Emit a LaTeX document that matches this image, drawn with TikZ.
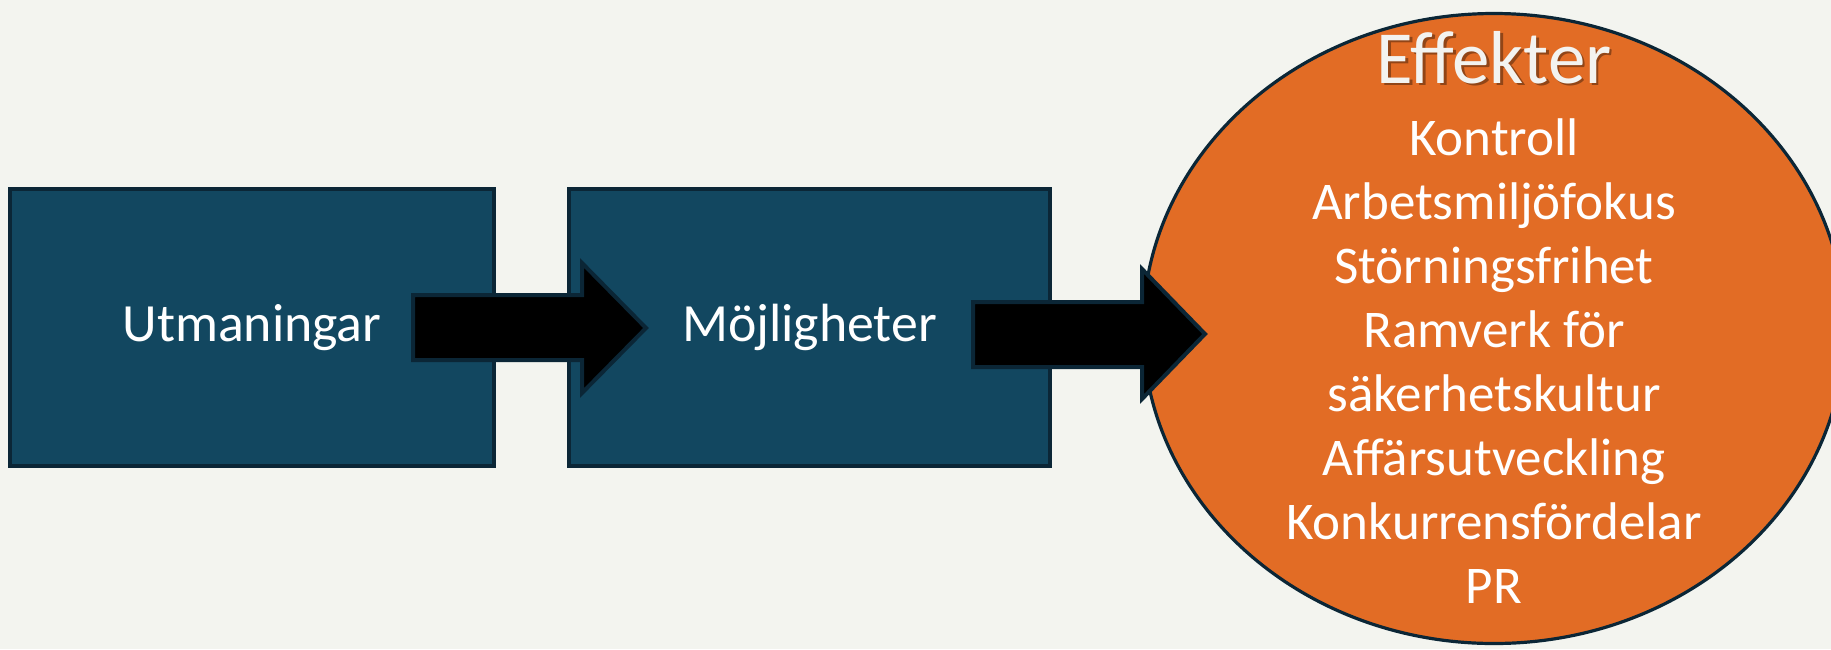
\documentclass[tikz,border=0pt]{standalone}
\usepackage{fontspec}
\setmainfont{Carlito}
\usetikzlibrary{shapes.geometric}
\definecolor{bg}{HTML}{F3F4EF}
\definecolor{boxfill}{HTML}{124760}
\definecolor{edgecol}{HTML}{0B2636}
\definecolor{orangefill}{HTML}{E26C25}
\definecolor{offwhite}{HTML}{F3F3F0}
\tikzset{
  box/.style={draw=edgecol, fill=boxfill, line width=2pt, rectangle, inner sep=0pt, outer sep=0pt,
    minimum width=242pt, minimum height=138.5pt, text=white, font=\fontsize{26.9}{32}\selectfont},
  blockarrow/.style={draw=edgecol, fill=black, line width=2pt, line join=miter},
  effekt/.style={ellipse, draw=edgecol, fill=orangefill, line width=1.6pt, inner sep=0pt, outer sep=0pt,
    minimum width=351pt, minimum height=315pt},
  line/.style={anchor=base, text=white, font=\fontsize{26.5}{31}\selectfont, inner sep=0pt},
}
\begin{document}
\begin{tikzpicture}[x=0.5pt,y=-0.5pt]
\fill[bg] (0,0) rectangle (1831,649);
\useasboundingbox (0,0) rectangle (1831,649);
\node[box] (b1) at (252,327.5) {Utmaningar};
\node[box, minimum width=240.5pt] (b2) at (809.5,327.5) {Möjligheter};
\coordinate (t1) at (413,327.5);
\coordinate (h1) at (646,328);
\draw[blockarrow] (t1) ++(0,-32.5) -- ++(169,0) -- ++(0,-32) -- (h1) -- ++(-64,65) -- ++(0,-33) -- ++(-169,0) -- cycle;
\node[effekt] (e) at (1494,328.5) {};
\coordinate (t2) at (973,334.5);
\coordinate (h2) at (1205,334);
\draw[blockarrow] (t2) ++(0,-32.5) -- ++(169,0) -- ++(0,-33) -- (h2) -- ++(-63,65) -- ++(0,-32) -- ++(-169,0) -- cycle;
\node[anchor=base, inner sep=0pt, text=black!60!orangefill, opacity=0.6, font=\fontsize{37.5}{44}\selectfont] (effsh) at (1496.5,85.5) {Effekter};
\node[anchor=base, inner sep=0pt, text=offwhite, font=\fontsize{37.5}{44}\selectfont] (eff) at (1494,83) {Effekter};
\node[line] (l1) at (1494,155) {Kontroll};
\node[line] (l2) at (1494,219) {Arbetsmiljöfokus};
\node[line] (l3) at (1494,283) {Störningsfrihet};
\node[line] (l4) at (1494,347) {Ramverk för};
\node[line] (l5) at (1494,411) {säkerhetskultur};
\node[line] (l6) at (1494,475) {Affärsutveckling};
\node[line] (l7) at (1494,539) {Konkurrensfördelar};
\node[line] (l8) at (1494,603) {PR};
\end{tikzpicture}
\end{document}
